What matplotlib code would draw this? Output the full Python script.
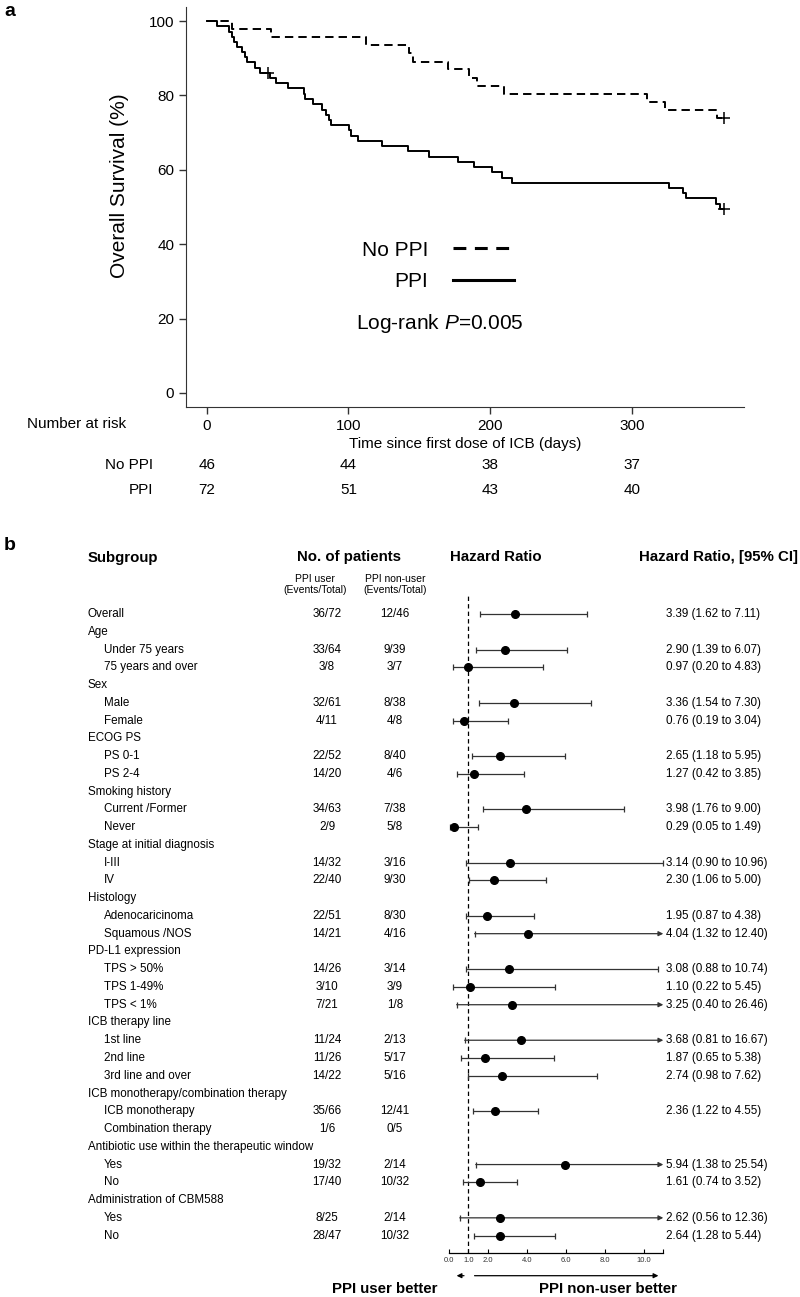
import matplotlib
matplotlib.use("Agg")
import matplotlib.pyplot as plt
from matplotlib import transforms
from matplotlib.lines import Line2D

plt.rcParams["font.family"] = ["Liberation Sans", "DejaVu Sans"]
plt.rcParams["mathtext.fontset"] = "custom"
plt.rcParams["mathtext.rm"] = "Liberation Sans"
plt.rcParams["mathtext.it"] = "Liberation Sans:italic"

# ---- panel a: Kaplan-Meier data ----
nop_days = [0, 17.9, 45.5, 112.7, 143, 145.8, 170, 185, 190.6, 210, 310.7, 323, 360]
nop_surv = [100, 97.8, 95.7, 93.5, 91.3, 89.1, 87.0, 84.8, 82.6, 80.4, 78.3, 76.1, 73.9]
nop_cens_days = [365]
nop_cens_surv = [73.9]

ppi_days = [0, 7.5, 16, 17.7, 19, 21.3, 24.8, 27, 28.3, 34, 37.7, 45, 49, 57, 68.5,
            69.5, 75.3, 81, 84.5, 86.5, 87.5, 100.7, 102, 107, 123.5, 142, 157, 177,
            188.7, 201, 208, 215, 326, 335.8, 338, 359.5, 362]
ppi_surv = [100, 98.6, 97.2, 95.8, 94.4, 93.1, 91.7, 90.3, 88.9, 87.5, 86.1, 84.7, 83.3,
            81.9, 80.5, 79.1, 77.7, 76.2, 74.8, 73.4, 72.0, 70.6, 69.2, 67.8, 66.4, 65.0,
            63.5, 62.1, 60.7, 59.3, 57.9, 56.5, 55.1, 53.7, 52.3, 50.9, 49.4]
ppi_cens_days = [43.5, 365]
ppi_cens_surv = [86.1, 49.4]

risk_times = [0, 100, 200, 300]
nop_risk = [46, 44, 38, 37]
ppi_risk = [72, 51, 43, 40]

# ---- panel b: forest plot data ----
subgroups = ["Overall", "Age", "Under 75 years", "75 years and over", "Sex", "Male", "Female",
             "ECOG PS", "PS 0-1", "PS 2-4", "Smoking history", "Current /Former", "Never",
             "Stage at initial diagnosis", "I-III", "IV", "Histology", "Adenocaricinoma",
             "Squamous /NOS", "PD-L1 expression", "TPS > 50%", "TPS 1-49%", "TPS < 1%",
             "ICB therapy line", "1st line", "2nd line", "3rd line and over",
             "ICB monotherapy/combination therapy", "ICB monotherapy", "Combination therapy",
             "Antibiotic use within the therapeutic window", "Yes", "No",
             "Administration of CBM588", "Yes", "No"]
is_item = [False, False, True, True, False, True, True, False, True, True, False, True, True,
           False, True, True, False, True, True, False, True, True, True, False, True, True,
           True, False, True, True, False, True, True, False, True, True]
ppi_user = ["36/72", "", "33/64", "3/8", "", "32/61", "4/11", "", "22/52", "14/20", "",
            "34/63", "2/9", "", "14/32", "22/40", "", "22/51", "14/21", "", "14/26", "3/10",
            "7/21", "", "11/24", "11/26", "14/22", "", "35/66", "1/6", "", "19/32", "17/40",
            "", "8/25", "28/47"]
ppi_nonuser = ["12/46", "", "9/39", "3/7", "", "8/38", "4/8", "", "8/40", "4/6", "",
               "7/38", "5/8", "", "3/16", "9/30", "", "8/30", "4/16", "", "3/14", "3/9",
               "1/8", "", "2/13", "5/17", "5/16", "", "12/41", "0/5", "", "2/14", "10/32",
               "", "2/14", "10/32"]
hr = [3.39, None, 2.90, 0.97, None, 3.36, 0.76, None, 2.65, 1.27, None, 3.98, 0.29, None,
      3.14, 2.30, None, 1.95, 4.04, None, 3.08, 1.10, 3.25, None, 3.68, 1.87, 2.74, None,
      2.36, None, None, 5.94, 1.61, None, 2.62, 2.64]
ci_low = [1.62, None, 1.39, 0.20, None, 1.54, 0.19, None, 1.18, 0.42, None, 1.76, 0.05, None,
          0.90, 1.06, None, 0.87, 1.32, None, 0.88, 0.22, 0.40, None, 0.81, 0.65, 0.98, None,
          1.22, None, None, 1.38, 0.74, None, 0.56, 1.28]
ci_high = [7.11, None, 6.07, 4.83, None, 7.30, 3.04, None, 5.95, 3.85, None, 9.00, 1.49, None,
           10.96, 5.00, None, 4.38, 12.40, None, 10.74, 5.45, 26.46, None, 16.67, 5.38, 7.62,
           None, 4.55, None, None, 25.54, 3.52, None, 12.36, 5.44]
hr_ticks = [0, 1, 2, 4, 6, 8, 10]
ARROW_TIP = 11.0

W, H = 800, 1297


def rect(left, top, right, bottom):
    return [left / W, 1 - bottom / H, (right - left) / W, (bottom - top) / H]


def fy(py):
    return 1 - py / H


fig = plt.figure(figsize=(W / 100, H / 100), dpi=100)

# ================= panel a =================
ax1 = fig.add_axes(rect(186, 7, 744, 407))
dash_style = dict(color="black", lw=1.4, dashes=(4.3, 2.6))
solid_style = dict(color="black", lw=1.4)
ax1.step(nop_days + [nop_cens_days[-1]], nop_surv + [nop_surv[-1]], where="post", **dash_style)
ax1.step(ppi_days + [ppi_cens_days[-1]], ppi_surv + [ppi_surv[-1]], where="post", **solid_style)
ax1.plot(nop_cens_days, nop_cens_surv, "+", color="black", ms=8, mew=1.1)
ax1.plot(ppi_cens_days, ppi_cens_surv, "+", color="black", ms=8, mew=1.1)

ax1.set_xlim(-14.6, 379)
ax1.set_ylim(-3.8, 103.8)
ax1.set_xticks(risk_times)
ax1.set_yticks([0, 20, 40, 60, 80, 100])
ax1.tick_params(labelsize=11, length=5, width=1, color="#333333")
for side in ["top", "right"]:
    ax1.spines[side].set_visible(False)
for side in ["left", "bottom"]:
    ax1.spines[side].set_color("#333333")
ax1.set_ylabel("Overall Survival (%)", fontsize=15)
ax1.yaxis.set_label_coords(-0.102, 0.5525)
ax1.set_xlabel("Time since first dose of ICB (days)", fontsize=11, labelpad=3)

handles = [Line2D([], [], color="black", lw=2.2, dashes=(4.2, 2.8)),
           Line2D([], [], color="black", lw=2.2)]
ax1.legend(handles, ["No PPI", "PPI"], loc="center", bbox_to_anchor=(0.451, 0.3525),
           markerfirst=False, frameon=False, fontsize=15, handlelength=2.9,
           handletextpad=1.2, labelspacing=0.6)
ax1.text(0.455, 0.21, "Log-rank $P$=0.005", transform=ax1.transAxes, fontsize=15,
         ha="center", va="center")

# number at risk table
fig.text(27 / W, fy(424), "Number at risk", fontsize=11, ha="left", va="center")
risk_trans = transforms.blended_transform_factory(ax1.transData, fig.transFigure)
for label, counts, py in [("No PPI", nop_risk, 465), ("PPI", ppi_risk, 490)]:
    fig.text(153 / W, fy(py), label, fontsize=11, ha="right", va="center")
    for t, n in zip(risk_times, counts):
        fig.text(t, fy(py), str(n), fontsize=11, ha="center", va="center",
                 transform=risk_trans)

fig.text(10 / W, fy(12), "a", fontsize=14, fontweight="bold", ha="center", va="center")

# ================= panel b =================
row0, row_step = 614, 17.76
ax2 = fig.add_axes(rect(448.8, 592.7, 448.8 + 11 * 19.5, 1253))
ax2.set_xlim(0, 11)
ax2.set_ylim((1253 - row0) / row_step, (592.7 - row0) / row_step)
for side in ["top", "right", "left"]:
    ax2.spines[side].set_visible(False)
ax2.spines["bottom"].set_bounds(0, 10.96)
ax2.spines["bottom"].set_linewidth(0.9)
ax2.set_yticks([])
ax2.set_xticks(hr_ticks)
ax2.set_xticklabels([f"{t:.1f}" for t in hr_ticks])
ax2.tick_params(axis="x", direction="in", length=3, width=0.8, labelsize=5.5, pad=3,
                labelcolor="#333333")
ax2.set_xticks([10.96], minor=True)
ax2.tick_params(axis="x", which="minor", direction="in", length=3, width=0.8)
ax2.axvline(1, color="black", lw=0.9, dashes=(3.5, 2.5))

bar_color = "#333333"
for i, (h, lo, hi) in enumerate(zip(hr, ci_low, ci_high)):
    if h is None:
        continue
    if hi > ARROW_TIP:
        ax2.annotate("", xy=(ARROW_TIP, i), xytext=(lo, i),
                     arrowprops=dict(arrowstyle="-|>", color=bar_color, lw=0.9,
                                     mutation_scale=7, shrinkA=0, shrinkB=0),
                     annotation_clip=False)
        ax2.plot([lo], [i], marker="|", ms=5, mew=0.9, color=bar_color, clip_on=False)
        ax2.plot([h], [i], "o", ms=5.5, color="black", clip_on=False, zorder=4)
    else:
        ax2.errorbar([h], [i], xerr=[[h - lo], [hi - h]], fmt="o", ms=5.5, mfc="black",
                     mec="black", ecolor=bar_color, elinewidth=0.9, capsize=2.5,
                     capthick=0.9, clip_on=False, zorder=4)

row_trans = transforms.blended_transform_factory(fig.transFigure, ax2.transData)
for i, name in enumerate(subgroups):
    fig.text((104 if is_item[i] else 88) / W, i, name, fontsize=8.4, ha="left",
             va="center", transform=row_trans)
    if ppi_user[i]:
        fig.text(327 / W, i, ppi_user[i], fontsize=8.4, ha="center", va="center",
                 transform=row_trans)
        fig.text(395 / W, i, ppi_nonuser[i], fontsize=8.4, ha="center", va="center",
                 transform=row_trans)
    if hr[i] is not None:
        fig.text(666 / W, i, f"{hr[i]:.2f} ({ci_low[i]:.2f} to {ci_high[i]:.2f})",
                 fontsize=8.4, ha="left", va="center", transform=row_trans)

# headers
fig.text(10 / W, fy(545), "b", fontsize=14, fontweight="bold", ha="center", va="center")
fig.text(88 / W, fy(558), "Subgroup", fontsize=10.8, fontweight="bold", ha="left", va="center")
fig.text(349 / W, fy(557), "No. of patients", fontsize=10.8, fontweight="bold",
         ha="center", va="center")
fig.text(496 / W, fy(557), "Hazard Ratio", fontsize=10.8, fontweight="bold",
         ha="center", va="center")
fig.text(798 / W, fy(557), "Hazard Ratio, [95% CI]", fontsize=10.8, fontweight="bold",
         ha="right", va="center")
fig.text(315 / W, fy(584.5), "PPI user\n(Events/Total)", fontsize=7.5, ha="center",
         va="center", linespacing=1.1)
fig.text(395 / W, fy(584.5), "PPI non-user\n(Events/Total)", fontsize=7.5, ha="center",
         va="center", linespacing=1.1)

# direction arrows and labels
arrow_y = fy(1275.7)
ax2.annotate("", xy=(0.4, arrow_y), xytext=(0.78, arrow_y), xycoords=("data", "figure fraction"),
             arrowprops=dict(arrowstyle="-|>", color="black", lw=0.9, mutation_scale=7,
                             shrinkA=0, shrinkB=0), annotation_clip=False)
ax2.annotate("", xy=(10.75, arrow_y), xytext=(1.32, arrow_y),
             xycoords=("data", "figure fraction"),
             arrowprops=dict(arrowstyle="-|>", color="black", lw=0.9, mutation_scale=7,
                             shrinkA=0, shrinkB=0), annotation_clip=False)
fig.text(385 / W, fy(1289), "PPI user better", fontsize=10.8, fontweight="bold",
         ha="center", va="center")
fig.text(608 / W, fy(1289), "PPI non-user better", fontsize=10.8, fontweight="bold",
         ha="center", va="center")

fig.savefig("out.png", dpi=100)
